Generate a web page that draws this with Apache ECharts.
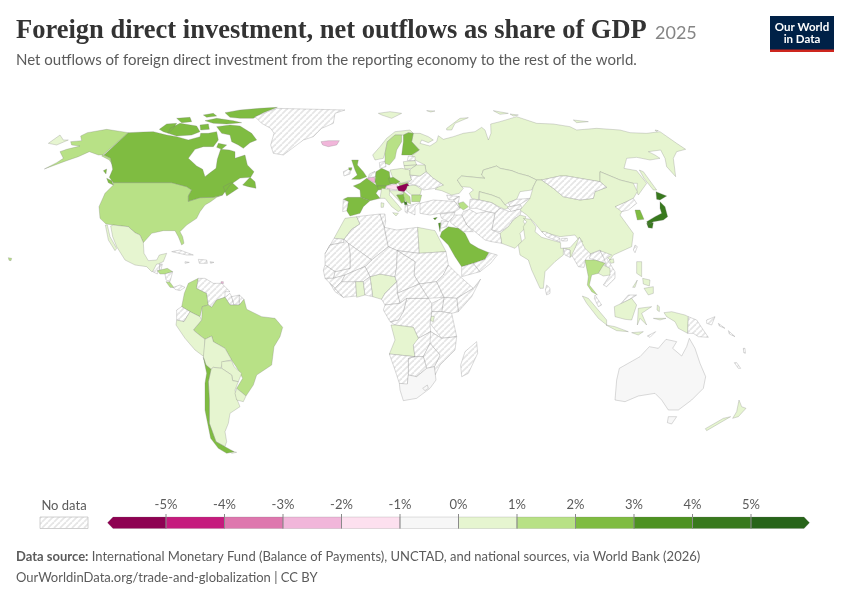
<!DOCTYPE html>
<html><head><meta charset="utf-8">
<style>html,body{margin:0;padding:0;background:#fff}#c{width:850px;height:600px}</style>
<script src="https://cdn.jsdelivr.net/npm/echarts@6/dist/echarts.min.js"></script>
</head><body><div id="c"></div>
<script>
// ---- chart values (each is the middle of its colour bin) ----
const countriesWithData = ['Canada','United States','Mexico','Honduras','Costa Rica','Colombia','Brazil','Peru','Bolivia','Paraguay','Argentina','Uruguay','Chile','Trinidad','Iceland','United Kingdom','France','Spain','Belgium','Germany','Switzerland','Austria','Hungary','Czechia','Slovakia','Poland','Romania','Bulgaria','Serbia','Croatia','Bosnia','Montenegro','Italy','Sweden','Norway','Finland','Latvia','Lithuania','Belarus','Russia','Kazakhstan','Uzbekistan','Azerbaijan','Pakistan','India','China','Japan','South Korea','Thailand','Cambodia','Indonesia','Philippines','Saudi Arabia','Israel','Cyprus','Egypt','Morocco','Nigeria','Ghana','Angola','Rwanda','South Africa','Lesotho','Australia','New Zealand'];
const outflowValues = [2.5,1.5,0.5,1.5,1.5,1.5,1.5,0.5,0.5,0.5,0.5,0.5,2.5,-2.5,-2.5,2.5,2.5,2.5,-2.5,2.5,2.5,-1.5,-5.5,2.5,1.5,0.5,0.5,1.5,1.5,0.5,2.5,4.5,0.5,1.5,0.5,2.5,0.5,0.5,0.5,0.5,0.5,0.5,1.5,0.5,0.5,0.5,4.5,2.5,1.5,0.5,0.5,0.5,2.5,3.5,3.5,0.5,0.5,0.5,0.5,0.5,0.5,-0.5,-0.5,-0.5,0.5];
const binEdges = [-6,-5,-4,-3,-2,-1,0,1,2,3,4,5,6];
const binColors = ['#8e0152','#c51b7d','#de77ae','#f1b6da','#fde0ef','#f7f7f7','#e6f5d0','#b8e186','#7fbc41','#4d9221','#38791d','#276419'];
const tickLabels = ['-5%','-4%','-3%','-2%','-1%','0%','1%','2%','3%','4%','5%'];

// ---- traced map geometry, in map units; each tracing sheet has its own origin, 3 units per sheet step ----
const sheetOrigins = {A:[0,90],B:[80,250],C:[300,100],D:[320,210],E:[420,100],F:[500,180],G:[560,260]};
const outlines = [
['Russia','A',[145,160,180,135,190,150,205,150,170,165]],
['United States','A',[385,128,320,118,262,128,242,138,245,152,212,155,215,165,240,168,200,178,180,185,190,205,170,218,133,237,200,212,235,200,268,185,295,195,312,195,332,205,338,225,328,210,305,198]],
['Canada','A',[385,128,430,126,460,125,500,135,530,140,565,150,600,140,602,130,625,130,650,125,655,150,640,170,610,170,585,178,565,205,590,228,608,238,615,260,628,250,648,235,652,208,662,178,688,180,705,185,705,205,735,195,742,225,762,245,752,262,720,264,690,285,668,315,640,322,600,323,565,334,565,318,575,300,560,290,515,278,340,278,328,262,338,238,332,205,312,195]],
['Canada','A',[650,110,690,105,720,108,755,130,770,150,750,158,730,175,715,165,695,155,690,135,665,130]],
['Canada','A',[675,68,720,60,780,55,832,52,790,68,760,85,720,85,690,82]],
['Canada','A',[615,92,650,85,700,92,725,98,680,102,640,100]],
['Canada','A',[510,115,540,100,590,108,600,125,575,135,530,138,505,130]],
['Canada','A',[478,118,500,102,530,100,520,115,505,130,490,125]],
['Canada','A',[530,85,570,82,575,95,545,98]],
['Canada','A',[610,75,640,70,650,78,620,82]],
['Canada','A',[600,105,625,102,628,118,602,120]],
['Canada','A',[655,160,680,165,665,178,650,172]],
['Canada','A',[728,285,750,262,765,275,768,295,745,290]],
['Canada','A',[670,290,695,277,715,295,680,318]],
['Canada','A',[320,265,335,272,340,285,325,278]],
['Canada','A',[310,242,320,237,318,252]],
['United States','A',[340,278,515,278,560,290,575,300,565,318,565,334,600,323,640,322,668,315,650,322,632,335,615,345,600,365,590,385,560,405,540,425,548,440,552,460,545,465,535,440,525,422,490,422,455,430,430,458,420,435,405,428,385,410,340,405,318,402,300,385,297,350,315,310,340,285]],
['United States','A',[25,503,35,505,33,512,27,511]],
['Greenland','A',[765,80,830,55,1035,60,1005,70,1000,100,965,115,940,140,910,150,850,195,820,190,812,165,822,130,812,115,785,100]],
['Mexico','A',[332,408,340,405,385,410,405,428,420,435,430,458,432,490,445,512,470,510,478,495,500,490,490,515,478,520,468,540,455,545,440,530,405,525,375,510,350,470,338,440]],
['Mexico','A',[316,405,322,405,330,440,350,475,345,482,325,450]],
['Guatemala','B',[218,65,230,42,240,42,238,62,232,62,232,72]],
['Belize','B',[240,42,247,42,243,60,238,62]],
['Honduras','B',[232,62,262,55,278,65,255,72,240,72]],
['Nicaragua','B',[255,72,278,65,270,95,258,90]],
['Costa Rica','B',[258,95,270,97,282,113,270,112]],
['Panama','B',[280,112,300,105,315,112,300,122,285,118]],
['Cuba','B',[275,5,300,0,340,15,320,15]],
['Hispaniola','B',[355,28,380,30,382,40,358,40]],
['Jamaica','B',[315,35,328,37,315,40]],
['Puerto Rico','B',[390,35,402,37,392,40]],
['Trinidad','B',[423,95,430,95,430,101,423,101]],
['Colombia','B',[355,85,325,100,313,130,305,170,330,185,360,200,367,170,385,165,380,130,350,115]],
['Venezuela','B',[355,85,350,115,380,130,385,165,395,172,410,150,435,142,435,125,450,125,425,100,400,100,375,85]],
['Guyana','B',[450,130,435,142,450,165,462,165,455,140]],
['Suriname','B',[455,140,478,135,478,165,462,165]],
['French Guiana','B',[478,135,492,148,478,165]],
['Brazil','B',[367,170,385,165,395,172,410,150,435,142,450,165,478,165,492,148,500,178,545,200,585,205,608,232,600,260,582,290,575,345,530,375,520,405,498,438,470,415,488,385,475,360,455,330,435,295,400,275,395,258,375,268,358,255,340,240,365,210]],
['Ecuador','B',[305,170,330,185,312,215,290,210,290,180]],
['Peru','B',[312,215,330,185,360,200,365,210,340,240,358,255,375,268,372,320,345,300,315,265,288,225,290,210]],
['Bolivia','B',[375,268,395,258,400,275,435,295,455,330,430,335,422,355,400,352,393,358,378,345,370,322]],
['Paraguay','B',[425,335,455,332,462,350,485,370,475,395,458,392,455,375,425,355]],
['Argentina','B',[393,358,400,352,425,355,455,375,458,392,475,395,465,420,470,445,480,470,450,490,445,520,435,545,440,575,435,590,408,575,388,520,388,450,385,395]],
['Argentina','B',[445,600,470,607,455,610]],
['Chile','B',[370,322,378,345,393,358,385,395,388,450,388,520,408,575,435,590,462,605,440,610,415,595,392,565,385,530,375,480,375,400,380,370]],
['Uruguay','B',[470,415,498,438,490,455,470,450,465,430]],
['Iceland','C',[63,125,85,122,118,122,110,135,85,140,68,135]],
['Ireland','C',[130,215,152,205,150,222,132,228]],
['United Kingdom','C',[155,180,175,180,172,195,190,215,200,230,180,238,155,238,172,225,165,210]],
['United Kingdom','C',[146,203,156,203,154,211,147,210]],
['France','C',[160,258,180,250,200,235,228,255,240,262,228,280,240,295,210,302,182,292,180,270]],
['Spain','C',[143,292,182,292,210,302,190,320,180,340,150,348,140,332,145,305,130,298]],
['Portugal','C',[130,298,145,305,140,332,128,335]],
['Belgium','C',[200,235,222,230,228,245,222,248]],
['Netherlands','C',[208,222,225,214,228,230,205,233]],
['Germany','C',[228,215,245,205,268,215,270,232,280,250,258,258,230,258,225,245]],
['Denmark','C',[238,188,255,183,258,200,240,205]],
['Poland','C',[270,210,305,205,330,210,330,225,335,240,305,250,280,238]],
['Czechia','C',[265,235,280,232,300,245,288,252,270,250]],
['Slovakia','C',[295,250,305,250,330,245,325,252,300,258]],
['Austria','C',[258,258,288,252,295,260,290,270,262,266]],
['Switzerland','C',[232,258,258,258,255,268,235,270]],
['Hungary','C',[290,260,322,250,328,258,312,275,295,272]],
['Romania','C',[322,258,345,255,365,268,360,285,335,285,318,272]],
['Ukraine','C',[330,225,360,228,378,215,400,235,430,255,405,265,370,270,360,260,345,255,322,250,335,240]],
['Italy','C',[245,265,270,268,268,285,290,310,305,328,295,335,275,320,255,295,240,295]],
['Italy','C',[278,338,295,340,288,348]],
['Italy','C',[243,308,252,310,250,322,243,322]],
['Croatia','C',[268,272,295,272,312,278,290,285,305,310,285,290]],
['Serbia','C',[312,275,330,290,332,312,318,305,308,285]],
['Bosnia','C',[290,285,310,283,315,305,305,310]],
['Montenegro','C',[312,305,320,306,322,314,314,314]],
['Bulgaria','C',[335,285,365,285,360,305,335,305]],
['Albania','C',[315,316,325,315,322,340,315,335]],
['Greece','C',[322,318,360,308,345,320,345,345,325,335]],
['Norway','C',[218,165,240,140,260,115,285,95,330,90,340,100,325,98,310,105,285,105,262,125,255,160,250,175,225,180]],
['Norway','C',[235,40,270,35,305,40,275,55,245,45]],
['Sweden','C',[255,160,262,125,285,105,305,105,305,125,290,150,285,175,268,195,255,190]],
['Finland','C',[310,105,325,98,340,100,335,125,358,150,335,165,305,165,310,125]],
['Estonia','C',[325,168,345,170,345,182,322,182]],
['Latvia','C',[310,185,345,182,350,195,312,197]],
['Lithuania','C',[312,197,350,195,335,205,315,207]],
['Belarus','C',[335,205,350,195,375,195,378,215,360,228,330,225,330,210]],
['Russia','C',[440,85,480,55,505,53,465,70,455,90,440,90]],
['Russia','C',[380,32,405,33,392,36]],
['Russia','E',[-20,100,0,100,25,110,40,120,25,128,5,120,0,130,30,138,50,125,55,107,70,118,100,110,130,100,165,95,185,82,195,90,205,120,213,100,212,72,240,65,290,50,350,70,400,72,450,80,470,90,530,85,600,90,630,98,680,100,720,95,770,130,797,148,770,155,760,175,767,230,740,200,735,175,722,150,685,155,705,165,720,175,690,180,650,172,620,175,612,205,650,212,680,250,655,285,650,275,652,250,640,250,600,240,540,215,540,245,510,240,440,228,420,228,365,240,350,240,325,228,295,220,275,212,240,205,230,198,190,210,185,225,195,235,125,228,112,240,125,260,130,265,118,280,95,285,65,272,45,268,60,255,70,255,40,235,18,215,15,195,-15,180,-25,168,-2,150,-25,125]],
['Russia','E',[220,32,265,40,240,43]],
['Russia','E',[270,42,295,45,280,48]],
['Russia','E',[460,60,505,65,470,68]],
['Russia','E',[705,90,715,92,708,94]],
['Russia','E',[658,210,670,215,710,270,700,270,672,235]],
['Kazakhstan','E',[112,240,125,228,195,235,185,225,190,210,230,198,240,205,275,212,295,220,325,228,350,240,340,260,335,270,300,275,290,298,265,308,255,315,240,295,215,285,178,275,175,300,155,295,148,280,160,270,150,262,125,260]],
['Uzbekistan','E',[178,275,215,285,240,295,255,315,270,322,255,328,240,322,215,308,178,300]],
['Turkmenistan','E',[150,298,178,300,215,308,240,325,225,340,200,335,170,325,148,325]],
['Kyrgyzstan','E',[265,308,290,298,330,295,302,312,270,320]],
['Tajikistan','E',[262,322,302,314,306,326,275,335]],
['Afghanistan','E',[225,340,240,325,270,335,306,326,300,345,280,360,265,380,240,395,215,390]],
['Pakistan','E',[240,400,265,380,280,360,300,345,318,350,310,365,320,380,300,400,305,425,285,445,245,430]],
['Iran','E',[130,335,148,328,170,340,200,335,225,340,215,390,240,400,245,430,215,425,195,420,165,395,140,375,125,345]],
['Iraq','E',[100,345,125,345,140,375,160,395,130,395,100,375,90,365]],
['Syria','E',[60,342,105,337,100,350,85,365,65,355]],
['Turkey','E',[0,310,40,300,85,303,105,305,120,325,105,335,60,340,30,345,0,340]],
['Georgia','E',[80,285,118,290,100,300,85,298]],
['Armenia','E',[100,300,118,290,115,310,120,325,105,305]],
['Azerbaijan','E',[115,310,130,305,145,320,130,330,120,322]],
['Jordan','E',[64,362,85,365,80,380,62,385]],
['Israel','E',[55,370,62,368,60,395]],
['Saudi Arabia','E',[65,395,85,380,115,385,135,400,150,430,175,445,207,458,195,478,160,490,125,500,105,470,85,435,60,410]],
['Yemen','E',[125,500,160,490,180,515,125,530]],
['Oman','E',[195,478,207,458,232,465,212,490,180,515,160,490]],
['China','E',[350,240,365,240,400,265,430,290,480,300,520,295,525,275,560,262,540,245,540,215,600,240,640,250,652,275,640,295,620,305,590,320,608,330,600,345,640,400,635,440,580,465,570,480,540,450,510,462,490,450,480,425,465,405,420,410,365,395,345,370,320,345,300,330,330,295,340,260]],
['China','E',[568,480,580,476,582,488,572,490]],
['Mongolia','E',[365,240,420,228,440,228,510,240,540,245,560,262,525,275,520,295,480,300,430,290,400,265]],
['North Korea','E',[585,320,620,305,640,295,650,310,625,330,605,335]],
['South Korea','F',[405,90,420,90,432,118,412,120]],
['Japan','F',[480,65,495,80,503,110,490,120,460,125,445,135,440,125,465,110,485,100,480,85]],
['Japan','F',[468,35,500,48,480,60,470,58]],
['Japan','F',[440,130,460,128,457,145,445,143]],
['Taiwan','E',[645,435,652,440,645,458,640,450]],
['India','F',[70,115,92,118,108,140,105,155,125,172,182,188,182,205,210,203,238,172,248,185,225,205,220,225,210,232,210,210,190,205,190,225,165,245,135,275,130,325,120,325,95,270,85,240,60,225,55,195,75,175,70,140,80,125]],
['Nepal','F',[125,155,135,155,180,175,180,186,140,170]],
['Bhutan','F',[185,175,202,175,202,183,185,183]],
['Bangladesh','F',[190,205,210,210,210,232,195,225]],
['Myanmar','F',[238,172,255,205,272,222,258,235,252,262,235,260,215,225,225,205]],
['Sri Lanka','F',[140,315,150,325,150,340,140,345,136,330]],
['Laos','F',[272,222,300,212,310,230,340,270,320,275,315,250,285,240,268,235]],
['Vietnam','F',[300,212,335,225,320,235,345,275,345,295,320,320,310,315,330,285,310,230]],
['Thailand','G',[75,0,105,0,135,10,115,40,95,45,88,75,112,105,95,95,82,75,85,50]],
['Cambodia','G',[115,40,130,15,150,25,150,45,130,48,115,40]],
['Malaysia','G',[105,105,125,135,115,140,103,115]],
['Malaysia','G',[175,140,205,105,230,105,215,115,195,125]],
['Indonesia','G',[67,108,85,115,140,180,140,195,115,175,80,130]],
['Indonesia','G',[138,195,165,200,205,215,170,212]],
['Indonesia','G',[163,140,195,125,215,115,230,135,215,180,195,178,165,170]],
['Indonesia','G',[235,145,275,140,245,160,260,195,240,175,232,195]],
['Indonesia','G',[312,158,335,155,375,165,385,170,383,220,355,205,345,185,320,170]],
['Indonesia','G',[215,218,250,215,235,225]],
['Indonesia','G',[280,175,318,175,300,180]],
['Indonesia','G',[292,135,298,140,298,155,291,150]],
['Timor','G',[262,228,287,215,270,232]],
['Philippines','G',[230,5,245,5,245,50,230,40]],
['Philippines','G',[252,85,280,80,280,100,265,105]],
['Philippines','G',[248,55,270,60,268,78,250,72]],
['Philippines','G',[218,82,232,60,225,82]],
['Papua New Guinea','G',[385,170,410,180,430,210,445,232,415,230,400,220,383,220]],
['New Britain','G',[440,180,465,170,455,195,440,190]],
['Solomon Islands','G',[475,190,495,205,478,198]],
['Solomon Islands','G',[505,212,525,230,508,222]],
['Vanuatu','G',[550,265,555,265,556,280,551,278]],
['Australia','G',[178,325,240,290,268,260,295,265,318,238,350,245,338,265,365,288,380,260,388,235,405,265,420,310,437,350,430,385,395,420,355,450,325,450,305,420,285,400,235,408,195,425,165,420,170,360]],
['Australia','G',[325,470,350,470,335,492,322,488]],
['New Zealand','G',[537,420,545,440,558,445,535,470,518,475,530,455]],
['New Zealand','G',[512,470,440,512,436,506,490,475]],
['New Caledonia','G',[523,308,530,308,542,325,535,325]],
['Morocco','D',[75,25,110,20,120,42,95,58,72,88,42,85]],
['Western Sahara','D',[42,85,72,88,72,97,30,105,15,132]],
['Algeria','D',[110,20,180,12,193,52,205,110,155,150,85,100,72,88,95,58,120,42]],
['Tunisia','D',[180,12,195,12,197,35,193,52]],
['Libya','D',[193,52,230,60,293,52,298,130,232,122,205,110]],
['Egypt','D',[293,52,345,62,378,125,298,130]],
['Sudan','D',[298,130,378,125,385,165,370,195,350,215,298,222,282,195,285,155,232,122]],
['South Sudan','D',[298,222,350,215,372,262,325,265]],
['Ethiopia','D',[370,195,385,165,415,195,460,235,410,265,372,262,350,215]],
['Somalia','D',[460,235,482,207,455,260,415,305,410,265]],
['Kenya','D',[372,262,410,265,415,305,395,310,365,305]],
['Uganda','D',[335,280,372,262,365,305,335,305]],
['Tanzania','D',[335,305,365,305,395,310,410,380,365,385,330,340]],
['Rwanda','D',[333,318,343,320,340,335,332,332]],
['DR Congo','D',[260,265,325,265,335,280,335,305,330,340,332,365,295,385,280,352,225,345,210,335,235,330,250,305]],
['Angola','D',[213,345,225,345,280,352,295,385,295,395,280,405,285,440,208,432,225,390]],
['Zambia','D',[295,385,332,365,365,385,330,400,310,440,285,440,280,405]],
['Mozambique','D',[332,365,365,385,410,380,405,420,360,465,345,495,343,470,360,435,330,400]],
['Zimbabwe','D',[310,440,330,400,360,435,343,470,320,475]],
['Botswana','D',[265,445,285,440,310,440,320,475,290,500,265,495]],
['Namibia','D',[208,432,285,440,265,445,265,495,262,525,238,520,225,480]],
['South Africa','D',[238,520,262,522,265,495,290,500,320,475,343,470,348,510,330,535,290,565,250,572,240,540]],
['Lesotho','D',[308,535,322,525,325,535,315,542]],
['Madagascar','D',[470,395,473,430,445,490,425,500,422,465,435,425]],
['Nigeria','D',[150,200,180,192,225,200,230,215,195,250,185,268,158,260]],
['Niger','D',[155,150,205,110,232,122,230,170,225,200,180,192,150,200,135,170]],
['Chad','D',[232,122,285,155,282,195,298,222,255,240,232,250,230,215,225,200,230,170]],
['Central African Rep.','D',[232,250,255,240,298,222,325,265,260,265,240,280]],
['Cameroon','D',[230,215,232,250,240,280,195,285,185,268,195,250]],
['Congo Gabon','D',[195,285,240,280,260,265,250,305,235,330,210,335,190,300]],
['Mali','D',[85,100,155,150,135,170,110,180,75,195,40,205,45,185,90,175,90,130]],
['Mauritania','D',[72,88,85,100,90,130,90,175,45,185,15,165,15,132,30,105,72,97]],
['Senegal','D',[10,180,15,165,45,185,40,205,15,205]],
['Guinea','D',[15,205,40,205,75,195,65,215,45,235,30,220]],
['Liberia','D',[30,220,45,235,70,262,45,245]],
['Ivory Coast','D',[65,215,107,215,110,258,70,262,45,235]],
['Burkina Faso','D',[75,195,110,180,135,170,150,200,130,215,107,215,65,215]],
['Ghana','D',[107,215,130,215,135,255,110,262]],
['Benin Togo','D',[130,215,150,200,158,260,135,255]],
['Cyprus','D',[340,25,352,22,345,30]]
];

// ---- build the map from the tracings ----
const features = {};
outlines.forEach(([name, sheet, flat]) => {
  const [ox, oy] = sheetOrigins[sheet], ring = [];
  for (let i = 0; i < flat.length; i += 2) ring.push([ox + flat[i] / 3, oy + flat[i + 1] / 3]);
  ring.push(ring[0]);
  (features[name] = features[name] || []).push([ring]);
});
echarts.registerMap('world', {type:'FeatureCollection', features:Object.keys(features).map(n => ({
  type:'Feature', properties:{name:n}, geometry:{type:'MultiPolygon', coordinates:features[n]}
}))});

function hatch(size, stroke) {
  const c = document.createElement('canvas'); c.width = c.height = size;
  const g = c.getContext('2d'); g.fillStyle = '#fff'; g.fillRect(0,0,size,size);
  g.strokeStyle = stroke; g.lineWidth = 1.8;
  [-size,0,size].forEach(d => { g.beginPath(); g.moveTo(d,size); g.lineTo(d+size,0); g.stroke(); });
  return {image:c, repeat:'repeat'};
}
const noData = hatch(6,'#e6e6e6');
const colorOf = v => binColors[Math.max(0, binEdges.findIndex(e => v < e) - 1)];
const identity = {project:p => p, unproject:p => p};
const greyText = '#5b5b5b';

const chart = echarts.init(document.getElementById('c'), null, {renderer:'canvas'});
chart.setOption({
  animation:false, backgroundColor:'#fff',
  title:[
    {text:'Foreign direct investment, net outflows as share of GDP', left:16, top:18, padding:0, textStyle:{fontFamily:'Liberation Serif', fontWeight:'bold', fontSize:26.5, color:'#333'}},
    {text:'2025', left:655, top:24, padding:0, textStyle:{fontFamily:'Lato', fontWeight:'normal', fontSize:18, color:'#858585'}},
    {text:'Net outflows of foreign direct investment from the reporting economy to the rest of the world.', left:16, top:53, padding:0, textStyle:{fontFamily:'Lato', fontWeight:'normal', fontSize:15, color:greyText}},
    {text:'{b|Data source:} International Monetary Fund (Balance of Payments), UNCTAD, and national sources, via World Bank (2026)', left:16, top:550, padding:0, textStyle:{fontFamily:'Lato', fontWeight:'normal', fontSize:13, color:greyText, rich:{b:{fontFamily:'Lato', fontWeight:'bold', fontSize:13, color:greyText}}}},
    {text:'OurWorldinData.org/trade-and-globalization | CC BY', left:16, top:571, padding:0, textStyle:{fontFamily:'Lato', fontWeight:'normal', fontSize:13, color:greyText}},
    {text:'No data', left:64, textAlign:'center', top:499, padding:0, textStyle:{fontFamily:'Lato', fontWeight:'normal', fontSize:13, color:greyText}}
  ],
  grid:{left:107.5, width:702, top:517, height:11.5},
  xAxis:{type:'value', position:'top', min:-6, max:6, interval:1, splitLine:{show:false}, axisLine:{show:false},
    axisTick:{show:false},
    axisLabel:{margin:6, fontFamily:'Lato', fontSize:13, color:greyText, showMinLabel:false, showMaxLabel:false,
      formatter:v => tickLabels[v + 5] || ''}},
  yAxis:{type:'value', min:0, max:1, show:false},
  series:[
    {type:'map', map:'world', projection:identity, boundingCoords:[[0,0],[850,600]],
     left:0, top:0, width:850, height:600, roam:false, silent:true, selectedMode:false,
     label:{show:false}, emphasis:{disabled:true},
     itemStyle:{areaColor:noData, borderColor:'rgba(120,120,120,0.45)', borderWidth:0.6},
     data:countriesWithData.map((n,i) => ({name:n, value:outflowValues[i], itemStyle:{areaColor:colorOf(outflowValues[i])}}))},
    {type:'custom', silent:true, coordinateSystem:'cartesian2d', clip:false,
     data:binColors.map((c,i) => [binEdges[i], binEdges[i+1], i]),
     encode:{x:[0,1]},
     renderItem:(p, api) => {
       const i = api.value(2);
       const a = api.coord([api.value(0),0]), b = api.coord([api.value(1),1]);
       const last = binColors.length - 1, tip = 5.5, midY = (a[1]+b[1])/2;
       let pts = [[a[0],a[1]],[b[0],a[1]],[b[0],b[1]],[a[0],b[1]]];
       if (i === 0) pts = [[a[0],midY],[a[0]+tip,b[1]],[b[0],b[1]],[b[0],a[1]],[a[0]+tip,a[1]]];
       if (i === last) pts = [[a[0],a[1]],[b[0]-tip,a[1]],[b[0],midY],[b[0]-tip,b[1]],[a[0],b[1]]];
       const cell = {type:'polygon', shape:{points:pts}, style:{fill:binColors[i], stroke:'rgba(110,110,110,0.35)', lineWidth:0.6}};
       if (i === 0) return cell;
       return {type:'group', children:[cell, {type:'line', shape:{x1:a[0],y1:b[1]-3,x2:a[0],y2:a[1]}, style:{stroke:'#8a8a8a', lineWidth:1}}]};
     }}
  ],
  graphic:[
    {type:'rect', shape:{x:40,y:517,width:48,height:11.5}, style:{fill:noData, stroke:'#c4c4c4', lineWidth:0.8}},
    {type:'rect', shape:{x:770,y:16,width:64,height:36}, style:{fill:'#002147'}},
    {type:'rect', shape:{x:770,y:49.5,width:64,height:2.5}, style:{fill:'#ce261e'}},
    {type:'text', x:802, y:27, style:{text:'Our World', fill:'#fff', font:'bold 11.5px Lato', align:'center', verticalAlign:'middle'}},
    {type:'text', x:802, y:39, style:{text:'in Data', fill:'#fff', font:'bold 11.5px Lato', align:'center', verticalAlign:'middle'}}
  ]
});
</script></body></html>
